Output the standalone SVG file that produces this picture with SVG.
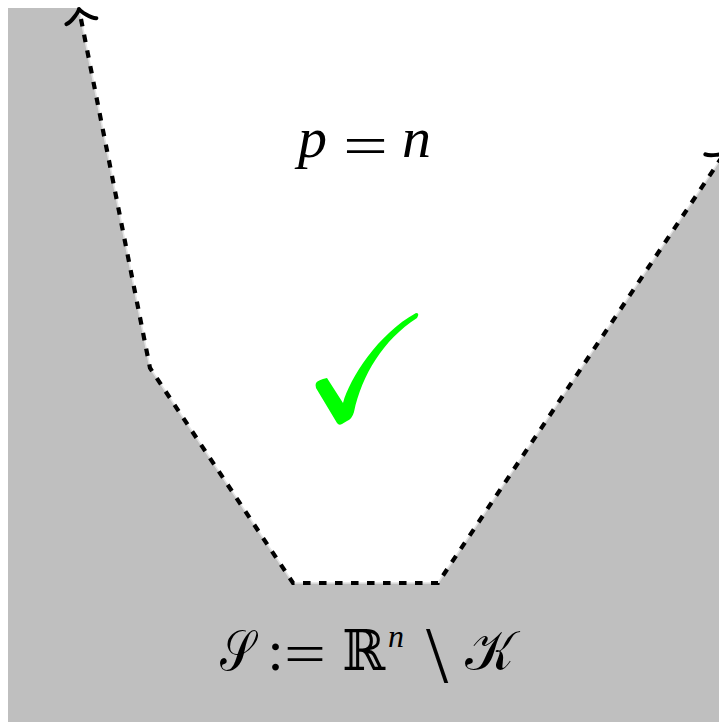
<svg xmlns="http://www.w3.org/2000/svg" width="719" height="723" viewBox="0 0 719 723">
<style>
.m{font-family:"Liberation Serif",serif;fill:#000}
.i{font-style:italic}
.s{font-family:"DejaVu Serif","DejaVu Sans",serif;fill:#000}
.d{fill:none;stroke:#000;stroke-width:4.2;stroke-dasharray:7.5 8.5;stroke-dashoffset:5.8}
.a{fill:none;stroke:#000;stroke-width:4;stroke-linecap:round;stroke-linejoin:round}
</style>
<rect width="719" height="723" fill="#fff"/>
<g id="complement-region">
<polygon points="8,8 78.8,8 150,368 293,583 438,583 719,161.5 719,722 8,722" fill="#bfbfbf"/>
</g>
<g id="connectors">
<polyline points="79,9 150,368 293,583 438,583 725,152.5" fill="none" stroke="#e4e4e4" stroke-width="1.5"/>
<polyline class="d" points="79,9 150,368 293,583 438,583 725,152.5"/>
<path class="a" transform="translate(79,9) rotate(-101.2)" d="M-12.4,15.3 C-11.5,9.6 -2.5,1 0,0 C-2.5,-1 -11.5,-9.6 -12.4,-15.3"/>
<path class="a" transform="translate(725,152.5) rotate(-56.3)" d="M-12.4,15.3 C-11.5,9.6 -2.5,1 0,0 C-2.5,-1 -11.5,-9.6 -12.4,-15.3"/>
</g>
<g id="label-top">
<text class="m i" x="298" y="157" font-size="58">p</text>
<text class="m" x="343" y="165" font-size="58" textLength="45" lengthAdjust="spacingAndGlyphs">=</text>
<text class="m i" x="402" y="157" font-size="58">n</text>
</g>
<g id="check">
<path fill="#00ff00" d="M316,383 Q318,380 327,378 L343,403 C350,378 378,334 416,313 Q420,313 417,318 C383,340 362,375 354,412 Q352,419 347,421 L342,424 Q339,426 337,423 L316,388 Q315,385 316,383 Z"/>
</g>
<g id="label-bottom">
<text class="s" x="220" y="670" font-size="56" textLength="34" lengthAdjust="spacingAndGlyphs">𝒮</text>
<text class="m" x="267.5" y="670" font-size="58">:</text>
<text class="m" x="284" y="673" font-size="58" textLength="42" lengthAdjust="spacingAndGlyphs">=</text>
<text class="s" x="342" y="670" font-size="56" textLength="43" lengthAdjust="spacingAndGlyphs">ℝ</text>
<text class="m i" x="388" y="647" font-size="32">n</text>
<text class="m" x="426" y="682" font-size="80">\</text>
<text class="s" x="465" y="670" font-size="56" textLength="49" lengthAdjust="spacingAndGlyphs">𝒦</text>
</g>
</svg>
